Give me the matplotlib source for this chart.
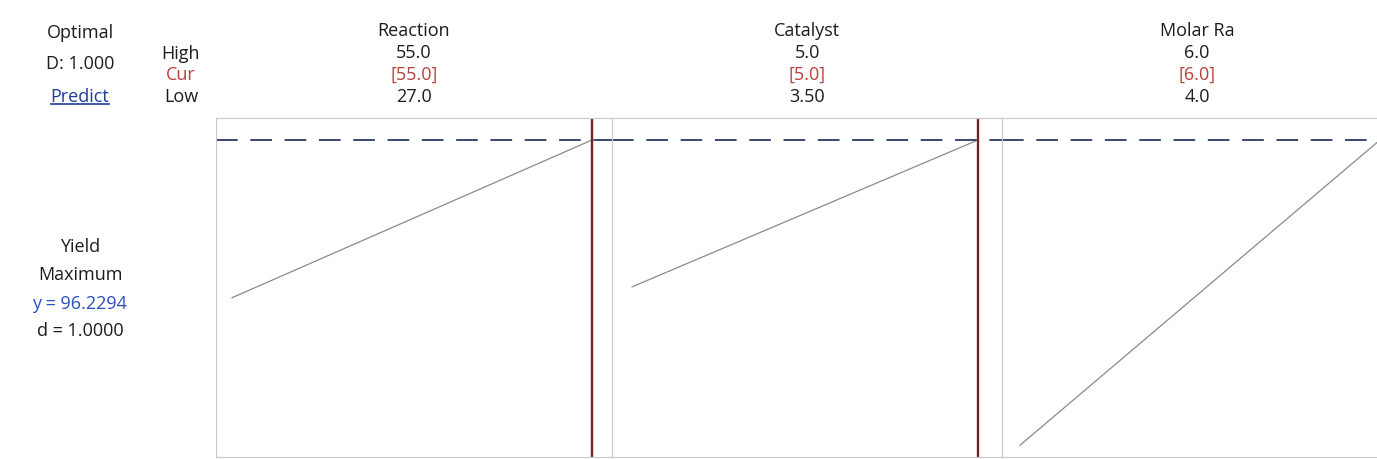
import matplotlib
matplotlib.use("Agg")
import matplotlib.pyplot as plt
from matplotlib.lines import Line2D

plt.rcParams['font.family'] = ['Open Sans', 'DejaVu Sans']

# Factor settings (High / Current / Low)
factors = ["Reaction", "Catalyst", "Molar Ra"]
high_vals = [55.0, 5.0, 6.0]
cur_vals = [55.0, 5.0, 6.0]
low_vals = [27.0, 3.50, 4.0]
high_txt = ["55.0", "5.0", "6.0"]
cur_txt = ["[55.0]", "[5.0]", "[6.0]"]
low_txt = ["27.0", "3.50", "4.0"]

# Predicted yield at low and high end of each factor (others held at current)
yield_at_low = [78.8, 80.0, 62.5]
yield_at_high = [96.2294, 96.2294, 96.2294]
y_opt = 96.2294
d_opt = 1.0

W, H = 1377, 459
fig = plt.figure(figsize=(W / 100, H / 100), dpi=100)
fig.patch.set_facecolor("white")

FS = 13
DARK = "#1c1c1c"
RED = "#b8403a"


def fx(px):
    return px / W


def fy(py):
    return 1 - py / H


def label(x, y, s, color=DARK):
    return fig.text(fx(x), fy(y), s, ha="center", va="center", fontsize=FS, color=color)


# panel boxes in pixels (left, width) and x ranges
panel_left = [216, 612, 1002]
panel_width = [396, 390, 390]
x_ranges = [(25.756, 56.556), (3.413, 5.104), (3.9, 6.067)]
top_px, bot_px = 118, 457
y_range = (61.2, 98.66)

for i in range(3):
    ax = fig.add_axes([fx(panel_left[i]), fy(bot_px),
                       panel_width[i] / W, (bot_px - top_px) / H])
    ax.set_xlim(*x_ranges[i])
    ax.set_ylim(*y_range)
    ax.set_xticks([])
    ax.set_yticks([])
    for sp in ax.spines.values():
        sp.set_color("#c8c8c8")
        sp.set_linewidth(0.8)
    ax.plot([low_vals[i], high_vals[i]], [yield_at_low[i], yield_at_high[i]],
            color="#8a8a8a", lw=0.9)
    ax.axhline(y_opt, color="#2b3a67", lw=1.3, linestyle=(0, (12, 7)))
    ax.axvline(cur_vals[i], color="#7a1f1f", lw=1.7)

    cx = panel_left[i] + panel_width[i] / 2
    label(cx, 31, factors[i])
    label(cx, 53, high_txt[i])
    label(cx, 75, cur_txt[i], RED)
    label(cx, 97, low_txt[i])

# left header block
label(80, 33, "Optimal")
label(80, 64, "D: %.3f" % d_opt)
pred = label(80, 97, "Predict", "#1f3c9c")
label(181, 54, "High")
label(181, 75, "Cur", RED)
label(181, 97, "Low")

# underline under Predict
fig.canvas.draw()
bb = pred.get_window_extent().transformed(fig.transFigure.inverted())
fig.add_artist(Line2D([bb.x0, bb.x1], [bb.y0 + 0.004, bb.y0 + 0.004],
                      transform=fig.transFigure, color="#1f3c9c", lw=1.2))

# response block
label(80, 247, "Yield")
label(80, 275, "Maximum")
label(80, 304, "y = %.4f" % y_opt, "#2a4fc0")
label(80, 331, "d = %.4f" % d_opt)

fig.savefig("out.png", dpi=100, facecolor="white")
